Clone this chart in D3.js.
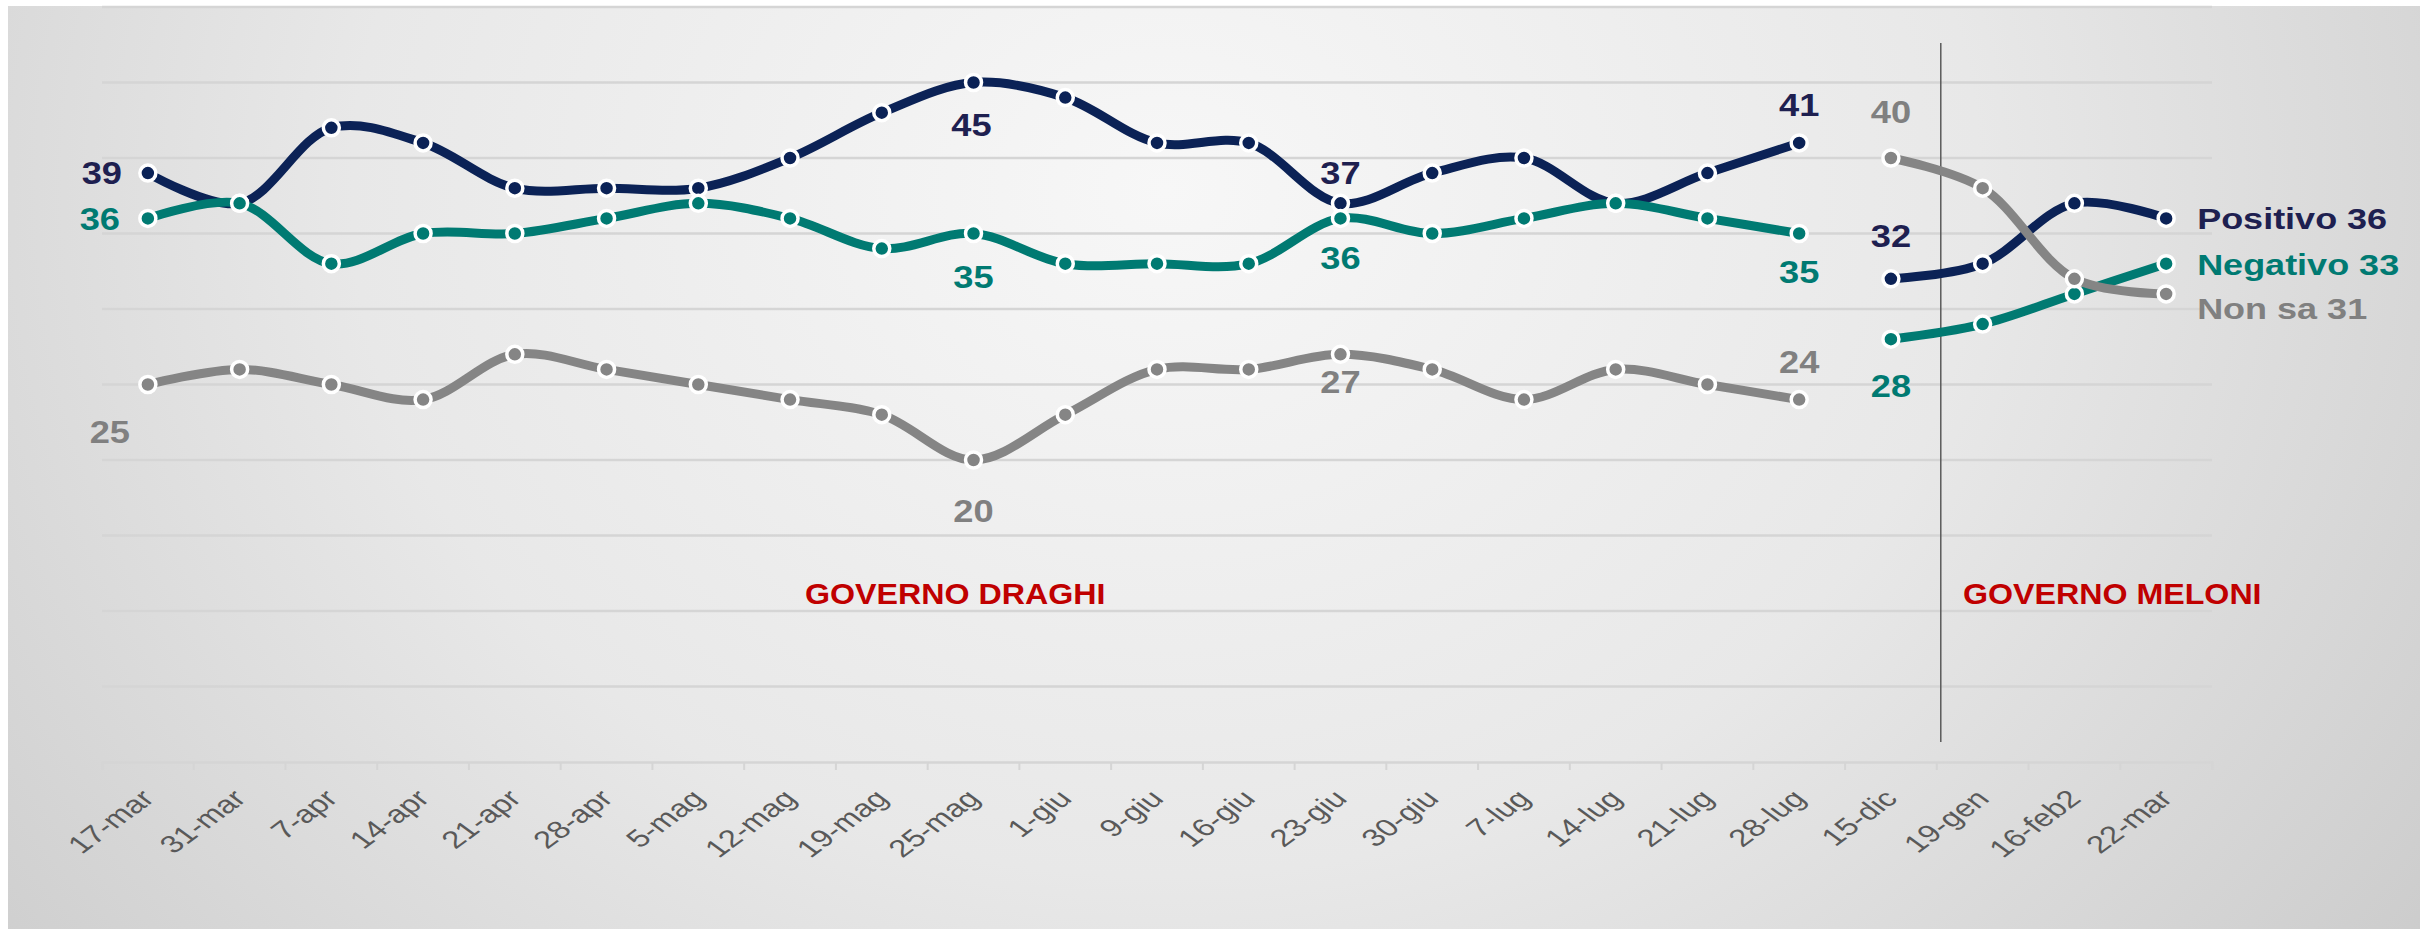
<!DOCTYPE html>
<html>
<head>
<meta charset="utf-8">
<script src="https://cdn.jsdelivr.net/npm/d3@7"></script>
<style>
  body { margin: 0; background: #fff; }
  svg { display: block; }
  text { font-family: "Liberation Sans", Arial, sans-serif; }
</style>
</head>
<body>
<div id="chart"></div>
<script>
// categories (survey dates) and the three series, in percent
const categories = ["17-mar", "31-mar", "7-apr", "14-apr", "21-apr", "28-apr", "5-mag", "12-mag",
    "19-mag", "25-mag", "1-giu", "9-giu", "16-giu", "23-giu", "30-giu", "7-lug", "14-lug",
    "21-lug", "28-lug", "15-dic", "19-gen", "16-feb2", "22-mar"];
const positivo = [39, 37, 42, 41, 38, 38, 38, 40, 43, 45, 44, 41, 41, 37, 39, 40, 37, 39, 41, 32, 33, 37, 36];
const negativo = [36, 37, 33, 35, 35, 36, 37, 36, 34, 35, 33, 33, 33, 36, 35, 36, 37, 36, 35, 28, 29, 31, 33];
const nonSa = [25, 26, 25, 24, 27, 26, 25, 24, 23, 20, 23, 26, 26, 27, 26, 24, 26, 25, 24, 40, 38, 32, 31];
const seriesNames = ["Positivo", "Negativo", "Non sa"];
const yTicks = [5, 10, 15, 20, 25, 30, 35, 40, 45, 50];
const firstMeloni = "19-gen";   // first date of the second period
const periodLabels = ["GOVERNO DRAGHI", "GOVERNO MELONI"];

const width = 2427, height = 937;
const colors = {Positivo: "#0b2256", Negativo: "#007a72", "Non sa": "#858585"};
const labelColors = {Positivo: "#1e2050", Negativo: "#007a72", "Non sa": "#808080"};

const svg = d3.select("#chart").append("svg")
    .attr("width", width)
    .attr("height", height);

// soft grey backdrop
let defs = svg.append("defs");
let grad = defs.append("radialGradient")
    .attr("id", "bg")
    .attr("cx", "48%").attr("cy", "20%").attr("r", "75%")
    .attr("gradientTransform", "translate(0.48,0.2) scale(1,2.2) translate(-0.48,-0.2)");
grad.append("stop").attr("offset", "0%").attr("stop-color", "#f7f7f7");
grad.append("stop").attr("offset", "45%").attr("stop-color", "#e8e8e8");
grad.append("stop").attr("offset", "100%").attr("stop-color", "#c2c2c2");

svg.append("rect")
    .attr("x", 8).attr("y", 6)
    .attr("width", 2412).attr("height", 923)
    .attr("fill", "url(#bg)");

// scales
let x = d3.scaleBand()
    .domain(categories)
    .range([102, 2212]);
let y = d3.scaleLinear()
    .domain([0, 50])
    .range([762, 7]);
let cx = d => x(d) + x.bandwidth() / 2;

// gridlines
svg.append("g").selectAll("line")
    .data(yTicks)
    .enter().append("line")
    .attr("x1", x.range()[0])
    .attr("x2", x.range()[1])
    .attr("y1", d => y(d))
    .attr("y2", d => y(d))
    .attr("stroke", "#d5d5d5")
    .attr("stroke-width", 2.5);

// x axis: ticks between categories
let xAxis = d3.axisBottom(x)
    .tickSizeOuter(0)
    .tickSize(8)
    .tickFormat("");
let axisG = svg.append("g")
    .attr("transform", "translate(0," + y(0) + ")")
    .call(xAxis);
axisG.select(".domain").attr("stroke", "#d5d5d5").attr("stroke-width", 2.5);
axisG.selectAll(".tick").attr("transform", d => "translate(" + x(d) + ",0)");
axisG.selectAll(".tick line").attr("stroke", "#d5d5d5").attr("stroke-width", 2);
axisG.append("line")
    .attr("x1", x.range()[1]).attr("x2", x.range()[1])
    .attr("y1", 0).attr("y2", 8)
    .attr("stroke", "#d5d5d5").attr("stroke-width", 2);

svg.append("g").selectAll("text")
    .data(categories)
    .enter().append("text")
    .attr("transform", d => "translate(" + (cx(d) + 8) + ",800) scale(1.35,1) rotate(-45)")
    .attr("text-anchor", "end")
    .attr("font-size", 24.5)
    .attr("fill", "#595959")
    .text(d => d);

// divider between the two governments
let divX = x(firstMeloni) + 4;
svg.append("line")
    .attr("x1", divX).attr("x2", divX)
    .attr("y1", 43).attr("y2", 742)
    .attr("stroke", "#5a5a5a")
    .attr("stroke-width", 1.5);

svg.append("text")
    .attr("transform", "translate(805,604) scale(1.11,1)")
    .attr("font-size", 29).attr("font-weight", "bold")
    .attr("fill", "#c00000")
    .text(periodLabels[0]);
svg.append("text")
    .attr("transform", "translate(1963,604) scale(1.11,1)")
    .attr("font-size", 29).attr("font-weight", "bold")
    .attr("fill", "#c00000")
    .text(periodLabels[1]);

// lines, broken between 28-lug and 15-dic
let breakAt = categories.indexOf("15-dic");
let line = d3.line()
    .x(d => cx(d.cat))
    .y(d => y(d.value))
    .curve(d3.curveCatmullRom.alpha(0.5));

let allSeries = [positivo, negativo, nonSa].map((vals, k) => ({
    name: seriesNames[k],
    points: vals.map((v, i) => ({cat: categories[i], value: v, i: i}))
}));

allSeries.forEach(s => {
    let g = svg.append("g");
    let segments = [s.points.slice(0, breakAt), s.points.slice(breakAt)];
    g.selectAll("path")
        .data(segments)
        .enter().append("path")
        .attr("d", line)
        .attr("fill", "none")
        .attr("stroke", colors[s.name])
        .attr("stroke-width", 9)
        .attr("stroke-linecap", "round");
    g.selectAll("circle")
        .data(s.points)
        .enter().append("circle")
        .attr("cx", d => cx(d.cat))
        .attr("cy", d => y(d.value))
        .attr("r", 8)
        .attr("fill", colors[s.name])
        .attr("stroke", "#fff")
        .attr("stroke-width", 3.5);
});

// value labels: which points are labelled and where (dx, dy from the point)
let labelPlaces = {
    Positivo: [[0, -46, 0], [9, -2, 42], [13, 0, -30], [18, 0, -38], [19, 0, -43]],
    Negativo: [[0, -48, 0], [9, 0, 43], [13, 0, 39], [18, 0, 38], [19, 0, 47]],
    "Non sa": [[0, -38, 47], [9, 0, 51], [13, 0, 28], [18, 0, -38], [19, 0, -46]]
};

allSeries.forEach(s => {
    svg.append("g").selectAll("text")
        .data(labelPlaces[s.name])
        .enter().append("text")
        .attr("transform", p => {
            let d = s.points[p[0]];
            return "translate(" + (cx(d.cat) + p[1]) + "," + (y(d.value) + p[2]) + ") scale(1.17,1)";
        })
        .attr("text-anchor", "middle")
        .attr("dy", "0.36em")
        .attr("font-size", 31)
        .attr("font-weight", "bold")
        .attr("fill", labelColors[s.name])
        .text(p => s.points[p[0]].value);

    // series name with last value at the right end
    let last = s.points[s.points.length - 1];
    svg.append("text")
        .attr("transform", "translate(" + (cx(last.cat) + 31) + "," + (y(last.value) + (s.name === "Non sa" ? 14 : 0)) + ") scale(1.2,1)")
        .attr("dy", "0.36em")
        .attr("font-size", 30)
        .attr("font-weight", "bold")
        .attr("fill", labelColors[s.name])
        .text(s.name + " " + last.value);
});
</script>
</body>
</html>
